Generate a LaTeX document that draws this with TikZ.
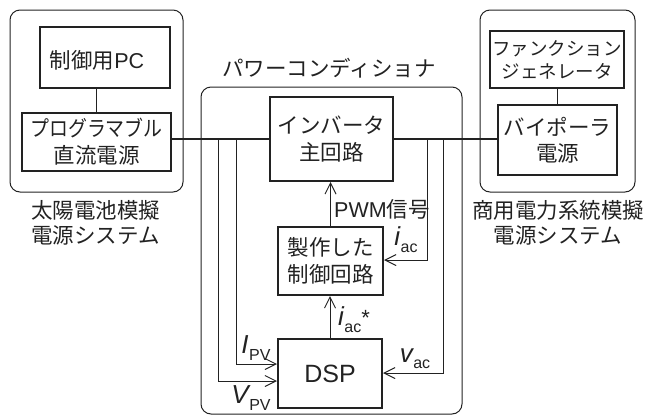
\documentclass[tikz,border=0pt]{standalone}
\usepackage{fontspec}
\usepackage{graphicx}
\setmainfont{Liberation Sans}
\newfontfamily\jp{Noto Sans CJK JP}
\usetikzlibrary{arrows.meta}
\definecolor{ink}{HTML}{222222}
\newcommand\JT{\jp\fontsize{21.5}{27}\selectfont}
\newcommand\ital[3][-7pt]{{\fontsize{26}{26}\selectfont\itshape #2}\kern0.5pt\raisebox{#1}{\fontsize{16}{16}\selectfont #3}}
\tikzset{
  outer/.style={draw=ink, line width=1pt, rounded corners=10pt, inner sep=0pt},
  blk/.style={draw=ink, line width=2pt, inner sep=0pt, align=center, text=ink, font=\JT},
  thin/.style={draw=ink, line width=1pt},
  bus/.style={draw=ink, line width=2.4pt},
  arr/.style={thin, -{Straight Barb[length=11pt,width=11pt,line width=1pt]}},
  lab/.style={text=ink, inner sep=0pt, align=center},
}
\begin{document}
\begin{tikzpicture}[x=1pt,y=-1pt]
\useasboundingbox (0,0) rectangle (659,416);

% outer groups
\node[outer, minimum width=173pt, minimum height=182pt] (lsys) at (96.5,101) {};
\node[outer, minimum width=261pt, minimum height=327pt] (pcs) at (331.5,250.5) {};
\node[outer, minimum width=155pt, minimum height=182pt] (rsys) at (557.5,101) {};

% blocks
\node[blk, minimum width=130pt, minimum height=61pt] (pc) at (105,57.5) {};
\node[lab, font=\JT] (pctext) at (97,60) {{\jp 制御用}\rmfamily PC};
\node[blk, minimum width=149pt, minimum height=58pt] (prog) at (96.5,142) {\scalebox{0.88}[1]{プログラマブル}\\直流電源};
\node[blk, minimum width=123pt, minimum height=84pt] (inv) at (331.5,139) {インバータ\\主回路};
\node[blk, minimum width=105pt, minimum height=68pt] (ctrl) at (330.5,261) {製作した\\制御回路};
\node[blk, minimum width=104pt, minimum height=69pt, font=\rmfamily\fontsize{25}{25}\selectfont] (dsp) at (330,373.5) {DSP};
\node[blk, minimum width=134pt, minimum height=57pt, font=\jp\fontsize{18.5}{23}\selectfont] (fg) at (557,59.5) {ファンクション\\ジェネレータ};
\node[blk, minimum width=119pt, minimum height=70pt, font=\jp\fontsize{21.5}{26}\selectfont] (bip) at (557.5,140) {バイポーラ\\電源};

% group labels
\node[lab, font=\JT] (title) at (329,68) {パワーコンディショナ};
\node[lab, font=\jp\fontsize{21.5}{25}\selectfont] (lsyslab) at (95.5,222.5) {太陽電池模擬\\電源システム};
\node[lab, font=\jp\fontsize{21.5}{25}\selectfont] (rsyslab) at (558,222.5) {商用電力系統模擬\\電源システム};

% links inside systems
\draw[thin] (prog.north) -- (prog.north |- pc.south);
\draw[thin] (bip.north) -- (bip.north |- fg.south);

% power bus
\coordinate (busy) at (0,139);
\draw[bus] (prog.east |- busy) -- (inv.west |- busy);
\draw[bus] (inv.east |- busy) -- (bip.west |- busy);

% signal arrows
\draw[arr] (ctrl.north) -- (ctrl.north |- inv.south);
\draw[arr] (dsp.north) -- (dsp.north |- ctrl.south);

\coordinate (tI) at (236,139);
\coordinate (tV) at (218,139);
\coordinate (ti) at (427,139);
\coordinate (tv) at (443,139);
\coordinate (yI) at (0,364);
\coordinate (yV) at (0,381);
\coordinate (yi) at (0,260);
\coordinate (yv) at (0,373);
\draw[arr] (tI) |- (dsp.west |- yI);
\draw[arr] (tV) |- (dsp.west |- yV);
\draw[arr] (ti) |- (ctrl.east |- yi);
\draw[arr] (tv) |- (dsp.east |- yv);

% signal labels
\node[lab, anchor=west, font=\rmfamily\fontsize{21.5}{21.5}\selectfont] (pwm) at (334,209) {PWM{\jp 信号}};
\node[lab] (iac) at (406,240) {\ital{i}{ac}};
\node[lab, anchor=west] (iacs) at (338,320) {\ital{i}{ac}{\fontsize{22}{22}\selectfont *}};
\node[lab] (ipv) at (256,348) {\ital{I}{PV}};
\node[lab] (vpv) at (251,398) {\ital{V}{PV}};
\node[lab] (vac) at (415,359) {\ital[-6pt]{v}{ac}};
\end{tikzpicture}
\end{document}
